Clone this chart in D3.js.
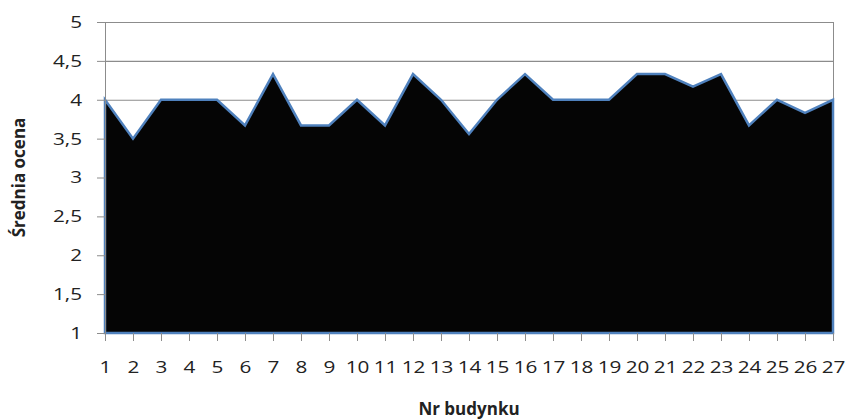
<!DOCTYPE html>
<html>
<head>
<meta charset="utf-8">
<script src="https://cdn.jsdelivr.net/npm/d3@7"></script>
<style>
  body { margin: 0; background: #fff; }
  text { font-family: "Open Sans", sans-serif; fill: #222; }
</style>
</head>
<body>
<svg id="chart" width="847" height="419"></svg>
<script>
// data
const buildings = d3.range(1, 28);
const scores = [4, 3.5, 4, 4, 4, 3.67, 4.33, 3.67, 3.67, 4, 3.67, 4.33, 4, 3.56,
  4, 4.33, 4, 4, 4, 4.33, 4.33, 4.17, 4.33, 3.67, 4, 3.83, 4];
const yTicks = [1, 1.5, 2, 2.5, 3, 3.5, 4, 4.5, 5];

const svg = d3.select("#chart");
const margin = { left: 105, right: 14, top: 22, bottom: 86 };
const width = 847, height = 419;
const STRETCH = 1.22; // reference font is wider than Open Sans

const x = d3.scaleLinear().domain([1, 27]).range([margin.left, width - margin.right]);
const y = d3.scaleLinear().domain([1, 5]).range([height - margin.bottom, margin.top]);

const fmt = (d) => String(d).replace(".", ",");

// gridlines
svg.append("g")
  .selectAll("line")
  .data(yTicks.slice(1))
  .join("line")
  .attr("x1", x(1))
  .attr("x2", x(27))
  .attr("y1", (d) => y(d) + 0.5)
  .attr("y2", (d) => y(d) + 0.5)
  .attr("stroke", "#8c8c8c")
  .attr("stroke-width", 1.2);

// right border of plot area
svg.append("line")
  .attr("x1", x(27) + 0.5).attr("x2", x(27) + 0.5)
  .attr("y1", y(5)).attr("y2", y(1))
  .attr("stroke", "#8c8c8c");

// area
const area = d3.area()
  .x((d, i) => x(buildings[i]))
  .y0(y(1))
  .y1((d) => y(d));

svg.append("path")
  .datum(scores)
  .attr("d", area)
  .attr("fill", "#050505")
  .attr("stroke", "#4f81bd")
  .attr("stroke-width", 2.5)
  .attr("stroke-linejoin", "miter");

// y axis
const yAxis = d3.axisLeft(y).tickValues(yTicks).tickFormat(fmt).tickSize(8).tickPadding(15);
svg.append("g")
  .attr("transform", `translate(${margin.left},0)`)
  .call(yAxis)
  .call((g) => g.select(".domain").attr("stroke", "#8c8c8c"))
  .call((g) => g.selectAll(".tick line").attr("stroke", "#8c8c8c"))
  .call((g) =>
    g.selectAll(".tick text")
      .attr("font-size", 17)
      .attr("fill", "#222")
      .attr("font-family", "Open Sans")
      .attr("x", -23 / STRETCH)
      .attr("transform", `scale(${STRETCH},1)`),
  );

// x axis
const xAxis = d3.axisBottom(x).tickValues(buildings).tickFormat(d3.format("d")).tickSize(8).tickPadding(20);
svg.append("g")
  .attr("transform", `translate(0,${height - margin.bottom})`)
  .call(xAxis)
  .call((g) => g.select(".domain").remove())
  .call((g) => g.selectAll(".tick line").attr("stroke", "#8c8c8c"))
  .call((g) =>
    g.selectAll(".tick text")
      .attr("font-size", 17)
      .attr("fill", "#222")
      .attr("font-family", "Open Sans")
      .attr("transform", `scale(${STRETCH},1)`),
  );

// axis titles
svg.append("text")
  .attr("transform", `translate(25, ${(y(1) + y(5)) / 2}) rotate(-90)`)
  .attr("text-anchor", "middle")
  .attr("font-size", 17)
  .attr("font-weight", "bold")
  .text("Średnia ocena");

svg.append("text")
  .attr("x", 469)
  .attr("y", 415)
  .attr("text-anchor", "middle")
  .attr("font-size", 17)
  .attr("font-weight", "bold")
  .text("Nr budynku");
</script>
</body>
</html>
